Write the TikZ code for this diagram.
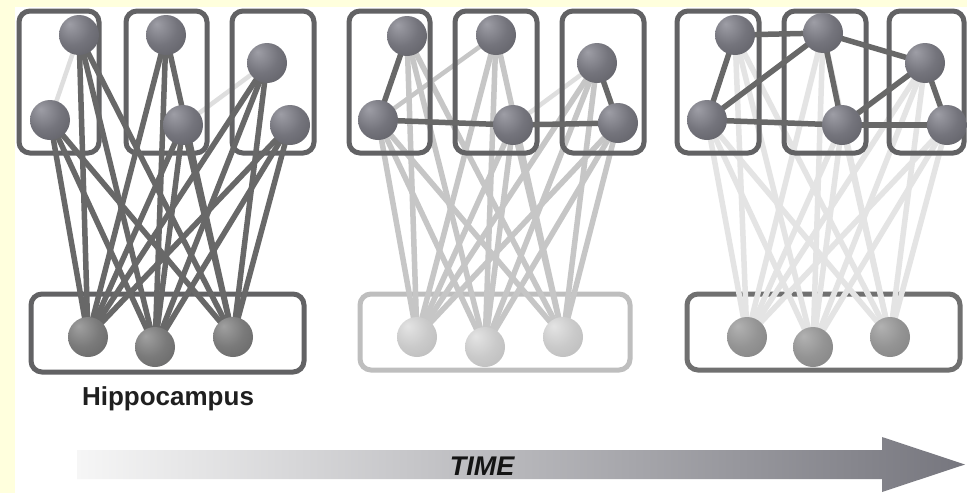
\documentclass[tikz,border=0pt]{standalone}
\usepackage{fontspec}
\setmainfont{Liberation Sans}
\definecolor{bgyellow}{RGB}{255,255,221}
\definecolor{edgedark}{RGB}{104,104,104}
\definecolor{edgelight}{RGB}{198,198,198}
\definecolor{edgefaint}{RGB}{228,228,228}
\definecolor{edgehint}{RGB}{222,222,222}
\definecolor{boxdark}{RGB}{98,98,100}
\definecolor{boxlight}{RGB}{190,190,190}
\definecolor{boxmid}{RGB}{112,112,112}
\definecolor{sdA}{RGB}{158,158,166}
\definecolor{sdB}{RGB}{116,116,124}
\definecolor{sdC}{RGB}{88,88,94}
\definecolor{sdD}{RGB}{70,70,74}
\definecolor{sgA}{RGB}{160,160,160}
\definecolor{sgB}{RGB}{122,122,122}
\definecolor{sgC}{RGB}{96,96,96}
\definecolor{sgD}{RGB}{80,80,80}
\definecolor{slA}{RGB}{228,228,228}
\definecolor{slB}{RGB}{202,202,202}
\definecolor{slC}{RGB}{182,182,182}
\definecolor{slD}{RGB}{170,170,170}
\definecolor{smA}{RGB}{178,178,178}
\definecolor{smB}{RGB}{148,148,148}
\definecolor{smC}{RGB}{126,126,126}
\definecolor{smD}{RGB}{112,112,112}
\definecolor{tA}{RGB}{246,246,246}
\definecolor{tB}{RGB}{200,200,200}
\definecolor{tC}{RGB}{118,118,126}
\pgfdeclareradialshading{sphdark}{\pgfqpoint{-12bp}{14bp}}{color(0bp)=(sdA); color(22bp)=(sdB); color(48bp)=(sdC); color(70bp)=(sdD)}
\pgfdeclareradialshading{sphgray}{\pgfqpoint{-12bp}{14bp}}{color(0bp)=(sgA); color(22bp)=(sgB); color(48bp)=(sgC); color(70bp)=(sgD)}
\pgfdeclareradialshading{sphlight}{\pgfqpoint{-12bp}{14bp}}{color(0bp)=(slA); color(22bp)=(slB); color(48bp)=(slC); color(70bp)=(slD)}
\pgfdeclareradialshading{sphmid}{\pgfqpoint{-12bp}{14bp}}{color(0bp)=(smA); color(22bp)=(smB); color(48bp)=(smC); color(70bp)=(smD)}
\pgfdeclarelayer{lyrbg}
\pgfdeclarelayer{lyrbotbox}
\pgfdeclarelayer{lyrlight}
\pgfdeclarelayer{lyrtopbox}
\pgfdeclarelayer{lyrdark}
\pgfsetlayers{lyrbg,lyrbotbox,lyrlight,lyrtopbox,lyrdark,main}
\tikzset{
  ball/.style={circle,minimum size=40pt,inner sep=0pt,draw=none},
  topball/.style={ball,shading=sphdark},
  hip1/.style={ball,shading=sphgray},
  hip2/.style={ball,shading=sphlight},
  hip3/.style={ball,shading=sphmid},
  cortbox/.style={draw=boxdark,line width=5pt,rounded corners=11pt},
  hipbox1/.style={draw=boxdark,line width=5pt,rounded corners=11pt},
  hipbox2/.style={draw=boxlight,line width=5pt,rounded corners=11pt},
  hipbox3/.style={draw=boxmid,line width=5pt,rounded corners=11pt},
  conn1/.style={draw=edgedark,line width=5.5pt},
  conn2/.style={draw=edgelight,line width=5.5pt},
  conn3/.style={draw=edgefaint,line width=5.5pt},
  cortlink/.style={draw=edgedark,line width=5.5pt},
  hintlink/.style={draw=edgehint,line width=4.5pt},
  hintlink2/.style={draw=edgelight,line width=4.5pt},
}
\begin{document}
\begin{tikzpicture}[x=1pt,y=-1pt]
\useasboundingbox (0,0) rectangle (967,493);
\begin{pgfonlayer}{lyrbg}
\fill[bgyellow] (0,0) rectangle (967,493);
\fill[white] (15,7) rectangle (967,493);
\end{pgfonlayer}
% ---------- nodes panel 1
\node[topball] (p1A1) at (79,35) {};
\node[topball] (p1B1) at (50,120) {};
\node[topball] (p1A2) at (166,35) {};
\node[topball] (p1B2) at (183,125) {};
\node[topball] (p1A3) at (267,63) {};
\node[topball] (p1B3) at (290,125) {};
\node[hip1] (p1H1) at (88,337) {};
\node[hip1] (p1H2) at (155,347) {};
\node[hip1] (p1H3) at (233,337) {};
% ---------- nodes panel 2
\node[topball] (p2A1) at (407,36) {};
\node[topball] (p2B1) at (378,120) {};
\node[topball] (p2A2) at (496,35) {};
\node[topball] (p2B2) at (513,125) {};
\node[topball] (p2A3) at (597,63) {};
\node[topball] (p2B3) at (618,123) {};
\node[hip2] (p2H1) at (417,337) {};
\node[hip2] (p2H2) at (485,347) {};
\node[hip2] (p2H3) at (563,337) {};
% ---------- nodes panel 3
\node[topball] (p3A1) at (735,35) {};
\node[topball] (p3B1) at (707,120) {};
\node[topball] (p3A2) at (823,33) {};
\node[topball] (p3B2) at (842,125) {};
\node[topball] (p3A3) at (925,63) {};
\node[topball] (p3B3) at (947,125) {};
\node[hip3] (p3H1) at (747,337) {};
\node[hip3] (p3H2) at (813,347) {};
\node[hip3] (p3H3) at (890,337) {};
% ---------- labels
\node[anchor=base,text=black!88,font=\bfseries\fontsize{26}{30}\selectfont] (hiplabel) at (168,405) {Hippocampus};
% ---------- boxes
\begin{pgfonlayer}{lyrtopbox}
\draw[cortbox] (19,11) rectangle (99,153);
\draw[cortbox] (126,11) rectangle (207,153);
\draw[cortbox] (232,11) rectangle (314,153);
\draw[cortbox] (349,11) rectangle (430,153);
\draw[cortbox] (455,11) rectangle (537,153);
\draw[cortbox] (562,11) rectangle (644,153);
\draw[cortbox] (677,11) rectangle (759,153);
\draw[cortbox] (784,11) rectangle (866,153);
\draw[cortbox] (889,11) rectangle (964,153);
\end{pgfonlayer}
\begin{pgfonlayer}{lyrbotbox}
\draw[hipbox1] (31,294) rectangle (304,372);
\draw[hipbox2] (360,294) rectangle (630,370);
\draw[hipbox3] (687,294) rectangle (960,370);
\end{pgfonlayer}
% ---------- cortex-hippocampus connections
\begin{pgfonlayer}{lyrlight}
\foreach \p in {2,3}{
  \foreach \t in {A1,B1,A2,B2,A3,B3}{
    \foreach \h in {H1,H2,H3}{
      \draw[conn\p] (p\p\t.center) -- (p\p\h.center);
    }
  }
}
\draw[hintlink] (p1B1.center) -- (p1A1.center);
\draw[hintlink] (p1B2.center) -- (p1A3.center);
\draw[hintlink2] (p2B1.center) -- (p2A2.center);
\draw[hintlink] (p2B2.center) -- (p2A3.center);
\end{pgfonlayer}
\begin{pgfonlayer}{lyrdark}
\foreach \t in {A1,B1,A2,B2,A3,B3}{
  \foreach \h in {H1,H2,H3}{
    \draw[conn1] (p1\t.center) -- (p1\h.center);
  }
}
% panel 2 cortico-cortical links
\draw[cortlink] (p2A1.center) -- (p2B1.center);
\draw[cortlink] (p2B1.center) -- (p2B2.center);
\draw[cortlink] (p2B2.center) -- (p2B3.center);
\draw[cortlink] (p2A3.center) -- (p2B3.center);
% panel 3 cortico-cortical links
\draw[cortlink] (p3A1.center) -- (p3A2.center);
\draw[cortlink] (p3A1.center) -- (p3B1.center);
\draw[cortlink] (p3B1.center) -- (p3A2.center);
\draw[cortlink] (p3B1.center) -- (p3B2.center);
\draw[cortlink] (p3A2.center) -- (p3B2.center);
\draw[cortlink] (p3A2.center) -- (p3A3.center);
\draw[cortlink] (p3B2.center) -- (p3A3.center);
\draw[cortlink] (p3B2.center) -- (p3B3.center);
\draw[cortlink] (p3A3.center) -- (p3B3.center);
\end{pgfonlayer}
% ---------- time arrow
\path[left color=tA,middle color=tB,right color=tC]
  (77,450) -- (882,450) -- (882,437) -- (965,464.5) -- (882,492) -- (882,479) -- (77,479) -- cycle;
\node[anchor=base,text=black!92,font=\bfseries\itshape\fontsize{27}{30}\selectfont] (timelabel) at (482,475) {TIME};
\end{tikzpicture}
\end{document}
